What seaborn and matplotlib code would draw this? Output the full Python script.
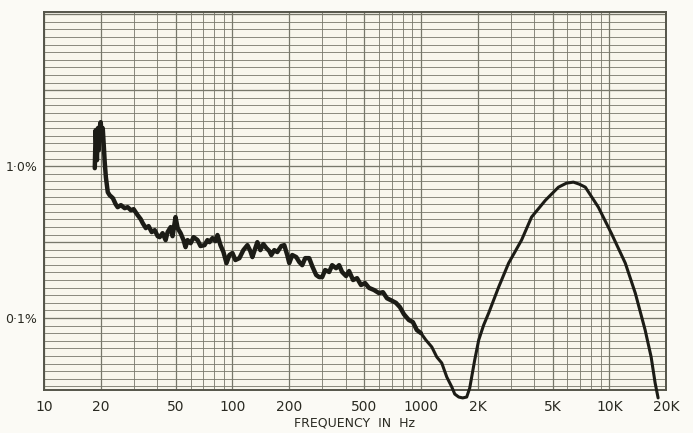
import numpy as np
import pandas as pd
import matplotlib
matplotlib.use("Agg")
import matplotlib.pyplot as plt
import matplotlib.ticker as mticker
import seaborn as sns

# distortion vs frequency
freq_hz = [18.6, 18.8, 19.1, 19.3, 19.5, 19.8, 20.0, 20.3, 20.5, 20.8, 21.0, 21.3, 21.8, 22.3,
           23.2, 24.0, 24.6, 25.6, 26.8, 27.8, 28.9, 29.9, 31.4, 32.6, 33.4, 34.7, 35.9, 37.3,
           38.7, 40.1, 41.1, 42.6, 44.2, 45.3, 47.0, 48.1, 49.9, 51.2, 53.1, 55.0, 56.4, 57.8,
           60.0, 62.2, 65.3, 67.7, 71.1, 73.7, 75.6, 78.4, 81.3, 83.3, 86.4, 89.6, 93.0, 96.4,
           100, 103.7, 108.9, 114.3, 120.1, 124.5, 127.6, 132.3, 135.6, 140.7, 145.9, 151.3,
           157.0, 160.8, 166.8, 173.0, 181.7, 188.4, 195.4, 200.3, 207.7, 218.2, 226.2, 234.6,
           243.3, 255.5, 265.0, 278.3, 288.6, 299.4, 310.5, 326.1, 338.2, 355.0, 368.3, 382.0,
           401.1, 415.9, 436.7, 458.5, 481.4, 505.5, 530.8, 564.1, 599.4, 629.4, 660.9, 694.0,
           737.5, 774.4, 813.0, 864, 907, 952, 1000, 1063, 1143, 1215, 1291, 1373, 1459, 1513,
           1589, 1668, 1751, 1817, 1861, 1931, 2028, 2154, 2291, 2588, 2923, 3423, 3868, 4586,
           5373, 5923, 6451, 6938, 7465, 8750, 10250, 12160, 13740, 15500, 16680, 17510, 18160]
thd_pct = [0.970, 1.725, 1.095, 1.778, 1.274, 1.834, 1.948, 1.528, 1.778, 1.314, 1.062, 0.846, 0.674, 0.644,
           0.616, 0.562, 0.537, 0.554, 0.529, 0.537, 0.513, 0.521, 0.476, 0.448, 0.422, 0.391, 0.403, 0.368,
           0.379, 0.346, 0.341, 0.362, 0.326, 0.368, 0.397, 0.346, 0.462, 0.391, 0.362, 0.326, 0.293, 0.326,
           0.311, 0.341, 0.326, 0.298, 0.302, 0.326, 0.316, 0.336, 0.321, 0.352, 0.302, 0.272, 0.230, 0.260,
           0.268, 0.241, 0.248, 0.280, 0.302, 0.276, 0.252, 0.289, 0.316, 0.280, 0.307, 0.289,
           0.276, 0.260, 0.280, 0.272, 0.298, 0.302, 0.260, 0.230, 0.260, 0.252, 0.234, 0.223,
           0.248, 0.248, 0.220, 0.192, 0.186, 0.186, 0.207, 0.201, 0.223, 0.213, 0.223, 0.201,
           0.189, 0.204, 0.178, 0.183, 0.165, 0.170, 0.158, 0.153, 0.146, 0.148, 0.135, 0.131,
           0.126, 0.118, 0.106, 0.0970, 0.0941, 0.0834, 0.0797, 0.0717, 0.0645, 0.0554, 0.0506, 0.0409, 0.0352, 0.0316,
           0.0302, 0.0298, 0.0302, 0.0346, 0.0409, 0.0529, 0.0717, 0.0899, 0.108, 0.160, 0.230, 0.326, 0.462, 0.597,
           0.727, 0.773, 0.785, 0.761, 0.727, 0.537, 0.362, 0.230, 0.146, 0.0834, 0.0554, 0.0374, 0.0298]

xtick_vals = [10, 20, 50, 100, 200, 500, 1000, 2000, 5000, 10000, 20000]
xtick_labels = ["10", "20", "50", "100", "200", "500", "1000", "2K", "5K", "10K", "20K"]
ytick_vals = [1.0, 0.1]
ytick_labels = ["1·0%", "0·1%"]

df = pd.DataFrame({"freq": freq_hz, "thd": thd_pct})
noisy = df[df["freq"] <= 1000]
smooth = df[df["freq"] >= 1000]

sns.set_style("white")
plt.rcParams["font.family"] = ["Liberation Sans Narrow", "DejaVu Sans"]

paper = "#f8f6ec"
ink = "#1c1c16"
grid_col = "#77776a"
text_col = "#2a2a22"

fig = plt.figure(figsize=(6.93, 4.33), dpi=100, facecolor="#fbfaf5")
ax = fig.add_axes([44 / 693, 43 / 433, 622 / 693, 378 / 433])
ax.set_facecolor(paper)
ax.set_xscale("log")
ax.set_yscale("log")
ax.set_xlim(10, 20000)
ax.set_ylim(0.0336, 10.35)

# graph paper: log frequency lines, 1 dB horizontal lines
for dec in [10, 100, 1000, 10000]:
    for m in range(1, 10):
        f = dec * m
        if f > 20000:
            break
        lw = 0.9 if m in (1, 2, 5) else 0.6
        ax.axvline(f, color=grid_col, lw=lw, zorder=1)
for k in range(-29, 21):
    v = 10 ** (k / 20)
    lw = 0.95 if k % 10 == 0 else 0.6
    ax.axhline(v, color=grid_col, lw=lw, zorder=1)

sns.lineplot(data=noisy, x="freq", y="thd", estimator=None, sort=False, ax=ax,
             color=ink, lw=3.2, clip_on=False, zorder=3)
sns.lineplot(data=smooth, x="freq", y="thd", estimator=None, sort=False, ax=ax,
             color=ink, lw=2.2, clip_on=False, zorder=3)

ax.xaxis.set_major_locator(mticker.FixedLocator(xtick_vals))
ax.xaxis.set_minor_locator(mticker.NullLocator())
ax.set_xticklabels(xtick_labels)
ax.yaxis.set_major_locator(mticker.FixedLocator(ytick_vals))
ax.yaxis.set_minor_locator(mticker.NullLocator())
ax.set_yticklabels(ytick_labels)
ax.tick_params(axis="x", length=0, pad=7, labelsize=10, colors=text_col)
ax.tick_params(axis="y", length=0, pad=5, labelsize=9, colors=text_col)

ax.set_xlabel("FREQUENCY  IN  Hz", fontsize=9, color=text_col, labelpad=2)
ax.set_ylabel("")

for s in ax.spines.values():
    s.set_color("#55554a")
    s.set_linewidth(1.4)

plt.savefig("out.png", dpi=100, facecolor=fig.get_facecolor())
